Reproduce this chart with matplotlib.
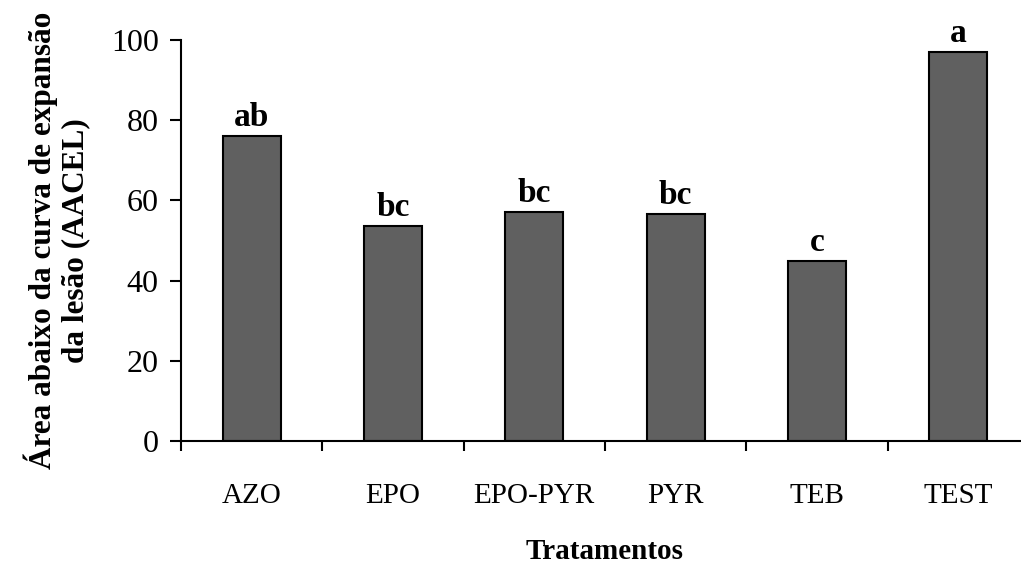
import matplotlib
matplotlib.use('Agg')
import matplotlib.pyplot as plt
import numpy as np

plt.rcParams['font.family'] = ['Liberation Serif', 'DejaVu Serif']

tratamentos = ['AZO', 'EPO', 'EPO-PYR', 'PYR', 'TEB', 'TEST']
aacel = [76.0, 53.7, 57.2, 56.7, 44.8, 97.0]
letras = ['ab', 'bc', 'bc', 'bc', 'c', 'a']

W, H = 1021, 563
fig = plt.figure(figsize=(W / 100, H / 100), dpi=100)
x0, x1 = 181, 181 + 6 * 141.3
y0, y1 = 441, 40
ax = fig.add_axes([x0 / W, 1 - y0 / H, (x1 - x0) / W, (y0 - y1) / H])

x = np.arange(len(tratamentos))
ax.bar(x, aacel, width=0.41, color='#606060', edgecolor='black', linewidth=1.5)
for xi, v, l in zip(x, aacel, letras):
    ax.text(xi, v + 2.5, l, ha='center', va='baseline', fontsize=24, fontweight='bold')

ax.set_xlim(-0.5, len(tratamentos) - 0.5)
ax.set_ylim(0, 100)
ax.set_yticks(range(0, 101, 20))
ax.set_xticks(x)
ax.set_xticklabels(tratamentos, fontsize=21)
ax.set_xticks(np.arange(-0.5, len(tratamentos) - 0.5, 1), minor=True)
ax.tick_params(axis='x', which='major', length=0, pad=30)
ax.tick_params(axis='x', which='minor', length=7.5, width=1.5, direction='out')
ax.tick_params(axis='y', length=8, width=1.5, direction='out', labelsize=23, pad=8)

for s in ['top', 'right']:
    ax.spines[s].set_visible(False)
for s in ['left', 'bottom']:
    ax.spines[s].set_linewidth(1.5)

ax.set_xlabel('Tratamentos', fontsize=21, fontweight='bold', labelpad=21)
ax.set_ylabel('Área abaixo da curva de expansão\nda lesão (AACEL)', fontsize=22.5,
              fontweight='bold', linespacing=1.15)
ax.yaxis.set_label_coords(-(x0 - 90) / (x1 - x0), 0.5)

fig.savefig('out.png', dpi=100)
